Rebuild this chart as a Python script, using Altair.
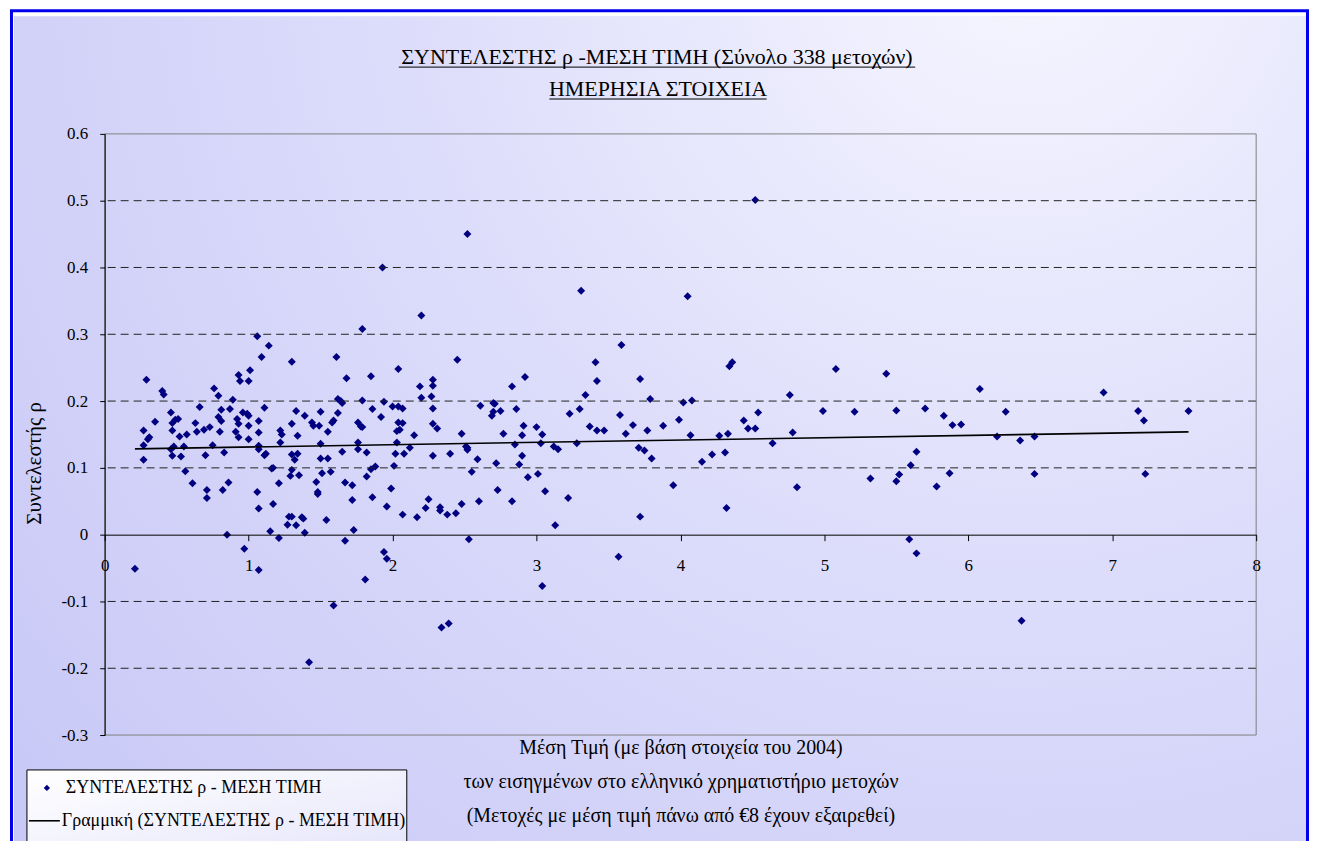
import altair as alt
import pandas as pd

# ---- data (x = mean price, y = coefficient rho) ----
price = [
    0.21, 0.29, 0.40, 0.41, 0.46, 0.35, 0.27, 0.31, 0.30, 0.27, 0.27, 0.47, 0.49, 0.51, 0.47, 0.52, 0.57, 0.46,
    0.48, 0.47, 0.53, 0.55, 0.56, 0.61, 0.66, 0.63, 0.64, 0.69, 0.73, 0.70, 0.75, 0.76, 0.79, 0.71, 0.71, 0.79,
    0.81, 0.81, 0.80, 0.83, 0.86, 0.82, 0.87, 0.89, 0.85, 0.92, 0.93, 0.91, 0.93, 0.93, 0.94, 0.97,
    1.06, 1.14, 1.09, 1.30, 1.01, 1.00, 1.11, 0.96, 0.99, 1.00, 1.07, 1.00, 1.07, 1.00, 1.22, 1.23, 1.22, 1.30,
    1.33, 1.34, 1.07, 1.07, 1.12, 1.11, 1.16, 1.17, 1.30, 1.32, 1.34, 1.30, 1.29, 1.35, 1.21, 1.06, 1.07, 1.17,
    1.15, 1.21, 1.28, 1.30, 1.27, 1.33, 1.07,
    1.61, 1.68, 1.79, 1.85, 1.37, 1.38, 1.39, 1.44, 1.45, 1.49, 1.50, 1.50, 1.55, 1.58, 1.59, 1.62, 1.62, 1.64,
    1.65, 1.50, 1.55, 1.51, 1.57, 1.65, 1.47, 1.48, 1.48, 1.54, 1.67, 1.72, 1.72, 1.73, 1.67, 1.79, 1.86, 1.76,
    1.78, 1.79, 1.76, 1.76, 1.82, 1.85, 1.82, 1.86, 1.39,
    1.94, 1.96, 1.81, 1.59, 1.42, 2.53, 2.34, 2.39, 3.04,
    2.20, 2.04, 2.19, 2.20, 2.28, 2.28, 2.27, 2.45, 2.92, 2.83, 1.94, 1.92, 2.00, 2.04, 2.07, 2.04, 2.07, 2.05,
    2.03, 2.03, 2.02, 2.08, 2.01, 1.99, 1.96, 2.07, 2.12, 2.15, 2.17, 2.23, 2.25, 2.28, 2.28, 2.31, 2.28, 2.33,
    2.33, 2.38, 2.44, 2.48, 2.48, 2.40, 2.51, 2.52, 2.52, 2.59, 2.55, 2.61, 2.60, 2.70, 2.71, 2.69, 2.70, 2.75,
    2.72, 2.73, 2.77, 2.83, 2.86, 2.85, 2.90, 2.90, 2.88, 2.91, 2.94, 1.88,
    2.52, 1.93,
    3.31, 3.59, 3.41, 3.42, 3.72, 3.34, 3.79, 3.23, 3.30, 3.58, 3.00, 3.04, 3.03, 3.12, 3.15, 3.28, 3.37, 3.42,
    3.47, 3.67, 3.62, 3.77, 3.71, 3.75, 3.80, 3.01, 3.06, 3.22, 3.13, 3.72, 3.57,
    4.05, 4.34, 4.36, 4.02, 4.08, 3.99, 3.88, 4.07, 4.27, 4.33, 4.44, 4.47, 4.52, 4.54, 4.64, 4.76, 4.78, 4.15,
    4.22, 4.31, 3.95, 4.32, 4.81, 4.52,
    5.08, 4.99, 5.21, 5.32, 5.43, 5.50, 5.50, 5.52, 5.60, 5.64, 5.59, 5.64, 5.70, 5.78, 5.83, 5.87, 5.89, 5.95,
    6.08, 6.20, 6.26, 6.36, 6.46, 6.46, 6.37, 6.94, 7.18, 7.22, 7.23, 7.53,
]
rho = [
    -0.051, 0.232, 0.215, 0.210, 0.183, 0.169, 0.156, 0.146, 0.143, 0.134, 0.112, 0.167, 0.172, 0.173, 0.156, 0.147, 0.150, 0.128,
    0.132, 0.118, 0.117, 0.132, 0.095, 0.077, 0.191, 0.167, 0.154, 0.157, 0.161, 0.119, 0.134, 0.219, 0.208, 0.067, 0.055, 0.176,
    0.170, 0.187, 0.154, 0.123, 0.078, 0.067, 0.188, 0.202, 0.000, 0.173, 0.166, 0.154, 0.146, 0.239, 0.230, -0.021,
    0.297, 0.283, 0.266, 0.259, 0.246, 0.230, 0.190, 0.183, 0.181, 0.178, 0.170, 0.163, 0.153, 0.143, 0.156, 0.150, 0.138, 0.166,
    0.185, 0.148, 0.133, 0.128, 0.121, 0.119, 0.099, 0.100, 0.120, 0.112, 0.121, 0.097, 0.088, 0.089, 0.077, 0.064, 0.039, 0.046,
    0.005, -0.005, 0.027, 0.027, 0.015, 0.014, -0.053,
    0.266, 0.234, 0.308, 0.237, 0.026, 0.024, 0.003, 0.168, 0.163, 0.163, 0.184, 0.136, 0.154, 0.168, 0.171, 0.182, 0.203, 0.200,
    0.197, 0.114, 0.114, 0.092, 0.094, 0.124, 0.079, 0.064, 0.061, 0.022, 0.078, 0.074, 0.052, 0.007, -0.009, 0.201, 0.188, 0.168,
    0.162, 0.161, 0.138, 0.128, 0.123, 0.098, 0.087, 0.056, 0.178,
    -0.026, -0.036, -0.067, -0.106, -0.191, -0.007, -0.139, -0.133, -0.077,
    0.328, 0.248, 0.222, 0.205, 0.232, 0.223, 0.207, 0.262, 0.236, 0.222, 0.199, 0.176, 0.192, 0.192, 0.189, 0.168, 0.167, 0.157,
    0.155, 0.138, 0.121, 0.121, 0.103, 0.069, 0.042, 0.030, 0.130, 0.149, 0.026, 0.040, 0.053, 0.189, 0.166, 0.159, 0.118, 0.041,
    0.036, 0.030, 0.032, 0.046, 0.151, 0.121, 0.132, 0.130, 0.127, 0.113, 0.094, 0.193, 0.050, 0.197, 0.196, 0.178, 0.184, 0.185,
    0.107, 0.067, 0.151, 0.050, 0.188, 0.135, 0.149, 0.118, 0.105, 0.163, 0.086, 0.102,
    0.450, 0.400,
    0.365, 0.284, 0.258, 0.230, 0.233, 0.209, 0.203, 0.181, 0.188, 0.179, 0.161, 0.150, 0.137, 0.132, 0.128, 0.137, 0.162, 0.156,
    0.156, 0.164, 0.151, 0.156, 0.130, 0.126, 0.114, 0.091, 0.065, 0.055, 0.014, 0.027, -0.033,
    0.357, 0.252, 0.258, 0.198, 0.201, 0.172, 0.163, 0.149, 0.148, 0.151, 0.171, 0.159, 0.159, 0.183, 0.137, 0.209, 0.153, 0.109,
    0.120, 0.123, 0.074, 0.040, 0.071, 0.501,
    0.248, 0.185, 0.184, 0.084, 0.241, 0.186, 0.080, 0.090, 0.104, 0.124, -0.007, -0.028, 0.189, 0.072, 0.178, 0.092, 0.164, 0.165,
    0.218, 0.147, 0.184, 0.141, 0.147, 0.091, -0.129, 0.213, 0.185, 0.171, 0.091, 0.185,
]

x_ticks = [0, 1, 2, 3, 4, 5, 6, 7, 8]
y_ticks = [-0.3, -0.2, -0.1, 0.0, 0.1, 0.2, 0.3, 0.4, 0.5, 0.6]
grid_levels = [-0.2, -0.1, 0.1, 0.2, 0.3, 0.4, 0.5]

title_lines = ["ΣΥΝΤΕΛΕΣΤΗΣ ρ -ΜΕΣΗ ΤΙΜΗ (Σύνολο 338 μετοχών)", "ΗΜΕΡΗΣΙΑ ΣΤΟΙΧΕΙΑ"]
x_title = [
    "Μέση Τιμή (με βάση στοιχεία του 2004)",
    "των εισηγμένων στο ελληνικό χρηματιστήριο μετοχών",
    "(Μετοχές με μέση τιμή πάνω από €8 έχουν εξαιρεθεί)",
]
y_title = "Συντελεστής ρ"
legend_labels = ["ΣΥΝΤΕΛΕΣΤΗΣ ρ - ΜΕΣΗ ΤΙΜΗ", "Γραμμική (ΣΥΝΤΕΛΕΣΤΗΣ ρ - ΜΕΣΗ ΤΙΜΗ)"]

W, H = 1155, 603
FONT = "Liberation Serif, Times New Roman, serif"
NAVY = "#000080"

df = pd.DataFrame({"x": price, "y": rho})
one = pd.DataFrame({"k": [0]})

x_scale = alt.Scale(domain=[0, 8], nice=False, zero=False)
y_scale = alt.Scale(domain=[-0.3, 0.6], nice=False, zero=False)

x_axis = alt.Axis(
    values=x_ticks, format="d", offset=-201, grid=False,
    domainColor="black", domainWidth=1, tickColor="black", tickSize=6, tickWidth=1,
    labelPadding=17, labelFlush=False, labelFont=FONT, labelFontSize=17, labelColor="black",
    title=x_title, titleFont=FONT, titleFontSize=20, titleFontWeight="normal", titleColor="black",
    titleLineHeight=34, titleBaseline="top", titleY=204, zindex=1,
)
y_axis = alt.Axis(
    values=y_ticks,
    labelExpr="datum.value < 0 ? '-' + format(-datum.value, '.1~f') : format(datum.value, '.1~f')",
    grid=False,
    domainColor="black", domainWidth=1, tickColor="black", tickSize=5, tickWidth=1,
    labelPadding=12, labelFont=FONT, labelFontSize=17, labelColor="black",
    title=y_title, titleFont=FONT, titleFontSize=21, titleFontWeight="normal", titleColor="black",
    titleX=-70, titleY=330, titleAngle=270, titleAlign="center", titleBaseline="middle", zindex=1,
)

bg_gradient = {
    "gradient": "radial",
    "x1": 0.78, "y1": 0.12, "r1": 0,
    "x2": 0.78, "y2": 0.12, "r2": 1.0,
    "stops": [
        {"offset": 0.0, "color": "#f6f6ff"},
        {"offset": 0.5, "color": "#dcdcfb"},
        {"offset": 1.0, "color": "#c9c9f7"},
    ],
}
legend_gradient = {
    "gradient": "linear", "x1": 0, "y1": 0, "x2": 1, "y2": 1,
    "stops": [{"offset": 0, "color": "#ffffff"}, {"offset": 1, "color": "#e4e4fb"}],
}

bg = alt.Chart(one).mark_rect(fill=bg_gradient).encode(
    x=alt.value(-91), x2=alt.value(1206), y=alt.value(-118), y2=alt.value(730)
)
legend_box = alt.Chart(one).mark_rect(fill=legend_gradient, stroke="black", strokeWidth=1).encode(
    x=alt.value(-78), x2=alt.value(303), y=alt.value(638), y2=alt.value(730)
)
# data layers first so that their axes are the ones that get merged
points = alt.Chart(df).mark_point(shape="diamond", filled=True, size=64, color=NAVY, opacity=1).encode(
    x=alt.X("x:Q", scale=x_scale, axis=x_axis),
    y=alt.Y("y:Q", scale=y_scale, axis=y_axis),
)
grid = alt.Chart(pd.DataFrame({"y": grid_levels})).mark_rule(
    color="#222222", strokeDash=[8, 5], strokeWidth=1
).encode(y=alt.Y("y:Q", scale=y_scale, axis=y_axis))
frame = alt.Chart(one).mark_rect(fill="transparent", stroke="#808080", strokeWidth=1).encode(
    x=alt.X(datum=0, scale=x_scale, axis=x_axis), x2=alt.X2(datum=8),
    y=alt.Y(datum=-0.3, scale=y_scale, axis=y_axis), y2=alt.Y2(datum=0.6),
)
reg = alt.Chart(df).transform_regression("x", "y").mark_line(color="black", strokeWidth=1.6).encode(
    x=alt.X("x:Q", scale=x_scale, axis=x_axis),
    y=alt.Y("y:Q", scale=y_scale, axis=y_axis),
)

t1 = alt.Chart(one).mark_text(text=title_lines[0], font=FONT, fontSize=22, color="black",
                              align="center", baseline="middle").encode(x=alt.value(554), y=alt.value(-77))
t2 = alt.Chart(one).mark_text(text=title_lines[1], font=FONT, fontSize=22, color="black",
                              align="center", baseline="middle").encode(x=alt.value(555), y=alt.value(-45))
u1 = alt.Chart(one).mark_rule(color="black", strokeWidth=1).encode(
    x=alt.value(295), x2=alt.value(813), y=alt.value(-67))
u2 = alt.Chart(one).mark_rule(color="black", strokeWidth=1).encode(
    x=alt.value(446), x2=alt.value(664), y=alt.value(-35))

leg_sym = alt.Chart(one).mark_point(shape="diamond", filled=True, size=40, color=NAVY, opacity=1).encode(
    x=alt.value(-58), y=alt.value(656))
leg_t1 = alt.Chart(one).mark_text(text=legend_labels[0], font=FONT, fontSize=18, color="black",
                                  align="left", baseline="middle").encode(x=alt.value(-39), y=alt.value(656))
leg_line = alt.Chart(one).mark_rule(color="black", strokeWidth=1.6).encode(
    x=alt.value(-76), x2=alt.value(-45), y=alt.value(689))
leg_t2 = alt.Chart(one).mark_text(text=legend_labels[1], font=FONT, fontSize=18, color="black",
                                  align="left", baseline="middle").encode(x=alt.value(-43), y=alt.value(689))

blue = alt.Chart(one).mark_rect(fill="transparent", stroke="#0000ee", strokeWidth=3).encode(
    x=alt.value(-93.5), x2=alt.value(1206.5), y=alt.value(-123.5), y2=alt.value(740)
)

chart = alt.layer(
    bg, legend_box, points, grid, frame, reg, t1, t2, u1, u2, leg_sym, leg_t1, leg_line, leg_t2, blue
).properties(
    width=W, height=H,
    autosize=alt.AutoSizeParams(type="none"),
    padding={"left": 97, "top": 125, "right": 53, "bottom": 105},
    background="white",
).configure_view(strokeWidth=0)

chart.save("out.html", embed_options={"renderer": "svg", "actions": False})
